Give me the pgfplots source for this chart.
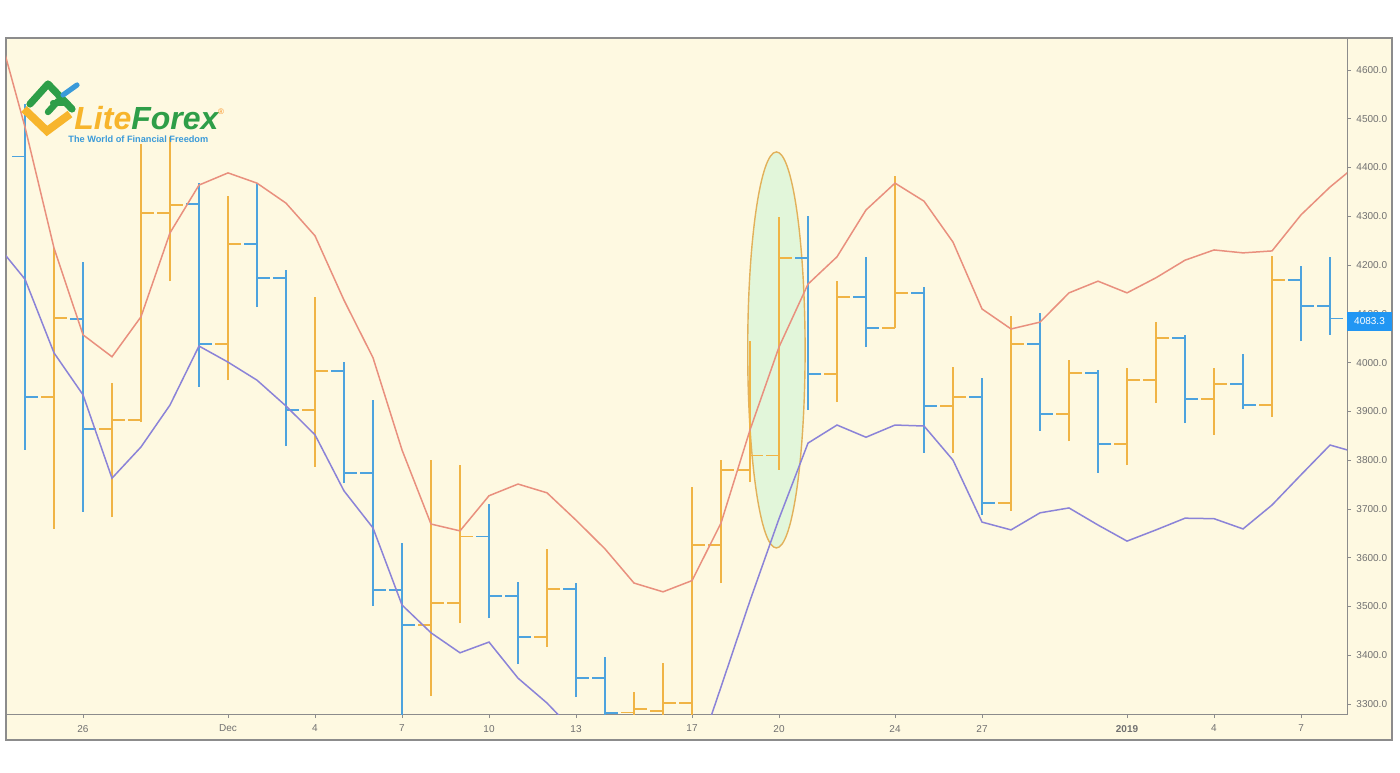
\documentclass[border=0pt]{standalone}
\usepackage{fontspec}
\setmainfont{Liberation Sans}
\usepackage{pgfplots}
\pgfplotsset{compat=1.18}
\usepackage{pgfplotstable}

\definecolor{bgc}{HTML}{FEF9E1}
\definecolor{framec}{HTML}{8C8C8C}
\definecolor{obar}{HTML}{F0B445}
\definecolor{bbar}{HTML}{4DA3DE}
\definecolor{rline}{HTML}{E9907E}
\definecolor{pline}{HTML}{8B83D8}
\definecolor{ellf}{HTML}{E2F6DA}
\definecolor{elld}{HTML}{E2B15A}
\definecolor{lblue}{HTML}{2196F3}
\definecolor{lgreen}{HTML}{2E9E48}
\definecolor{lyellow}{HTML}{F7B52C}
\definecolor{lsky}{HTML}{3A9AD9}
\definecolor{tickc}{HTML}{707070}

% day index: 0 = 26 Nov 2018
\pgfplotstableread{
d o h l c
-1 3929 4235 3659 4091
1 3864 3958 3683 3882
2 3882 4448 3878 4307
3 4307 4463 4167 4323
5 4038 4342 3964 4243
8 3903 4135 3786 3983
12 3462 3800 3316 3507
13 3507 3790 3466 3643
16 3437 3618 3417 3536
19 3283 3325 3200 3290
20 3286 3384 3200 3302
21 3302 3745 3200 3626
22 3626 3800 3548 3780
23 3780 4044 3755 3810
24 3810 4299 3780 4215
26 3977 4167 3919 4135
28 4071 4383 4071 4143
30 3911 3991 3815 3929
32 3712 4096 3696 4038
34 3895 4005 3839 3979
36 3833 3989 3790 3964
37 3964 4083 3917 4050
39 3925 3989 3852 3956
41 3913 4219 3889 4169
}\upbars

\pgfplotstableread{
d o h l c
-2 4423 4530 3821 3929
0 4089 4206 3694 3864
4 4325 4368 3950 4038
6 4243 4368 4114 4174
7 4174 4190 3829 3903
9 3983 4001 3753 3774
10 3774 3923 3501 3534
11 3534 3630 3200 3462
14 3643 3710 3476 3521
15 3521 3550 3382 3437
17 3536 3548 3314 3353
18 3353 3396 3200 3282
25 4215 4301 3903 3977
27 4135 4217 4032 4071
29 4143 4155 3815 3911
31 3929 3968 3688 3712
33 4038 4102 3860 3895
35 3979 3985 3774 3833
38 4050 4057 3876 3925
40 3956 4018 3905 3913
42 4169 4198 4044 4116
43 4116 4217 4057 4090
}\downbars

\pgfplotstableread{
d v
-3 4700
-2 4483
-1 4235
0 4057
1 4012
2 4094
3 4266
4 4364
5 4389
6 4368
7 4327
8 4260
9 4128
10 4010
11 3821
12 3669
13 3655
14 3727
15 3751
16 3733
17 3677
18 3618
19 3548
20 3530
21 3553
22 3671
23 3862
24 4032
25 4161
26 4217
27 4313
28 4368
29 4331
30 4247
31 4110
32 4069
33 4083
34 4143
35 4167
36 4143
37 4174
38 4210
39 4231
40 4225
41 4229
42 4303
43 4360
44 4409
}\upperband

\pgfplotstableread{
d v
-3 4244
-2 4171
-1 4020
0 3934
1 3763
2 3827
3 3913
4 4034
5 4001
6 3964
7 3911
8 3852
9 3737
10 3661
11 3503
12 3446
13 3405
14 3427
15 3353
16 3302
17 3240
18 3200
19 3170
20 3150
21 3160
22 3335
23 3512
24 3680
25 3835
26 3872
27 3847
28 3872
29 3870
30 3800
31 3673
32 3657
33 3692
34 3702
35 3667
36 3634
37 3657
38 3681
39 3680
40 3659
41 3708
42 3770
43 3831
44 3814
}\lowerband

\pgfplotsset{
  ohlc/.style={draw=none, mark=none, forget plot,
    /pgfplots/error bars/error mark=none,
    /pgfplots/error bars/error bar style={draw=#1, line width=0.75pt, line cap=butt}},
}

\begin{document}
\begin{tikzpicture}[x=0.5pt,y=0.5pt]
\fill[white] (0,0) rectangle (1400,772);
\fill[bgc] (6,32) rectangle (1392,734);
\draw[framec, line width=0.6pt] (6,32) rectangle (1392,734);
\begin{axis}[
  at={(3pt,29pt)}, anchor=south west,
  scale only axis, width=670.5pt, height=338pt,
  xmin=-2.655, xmax=43.586, ymin=3279.5, ymax=4665.6,
  axis line style={framec, line width=0.5pt},
  ytick={3300,3400,...,4600},
  ytick pos=right, xtick pos=bottom,
  tick align=outside, major tick length=2pt,
  tick style={framec, line width=0.4pt},
  xtick={0,5,8,11,14,17,21,24,28,31,36,39,42},
  xticklabels={26,Dec,4,7,10,13,17,20,24,27,\textbf{2019},4,7},
  ticklabel style={font=\fontsize{5.0}{6}\selectfont, text=tickc},
  yticklabel style={xshift=-0.8pt},
  /pgf/number format/fixed,
  /pgf/number format/fixed zerofill,
  /pgf/number format/precision=1,
  /pgf/number format/1000 sep={},
  /pgf/number format/assume math mode=true,
]
\draw[elld, fill=ellf, line width=0.7pt] (axis cs:23.91,4026) ellipse [x radius=14.35pt, y radius=99pt];

% up bars (orange): high-low, open tick (left), close tick (right)
\addplot[ohlc=obar, error bars/.cd, y dir=plus, y explicit]
  table[x=d, y=l, y error expr=\thisrow{h}-\thisrow{l}] {\upbars};
\addplot[ohlc=obar, error bars/.cd, x dir=minus, x fixed=0.45] table[x=d, y=o] {\upbars};
\addplot[ohlc=obar, error bars/.cd, x dir=plus, x fixed=0.45] table[x=d, y=c] {\upbars};
% down bars (blue)
\addplot[ohlc=bbar, error bars/.cd, y dir=plus, y explicit]
  table[x=d, y=l, y error expr=\thisrow{h}-\thisrow{l}] {\downbars};
\addplot[ohlc=bbar, error bars/.cd, x dir=minus, x fixed=0.45] table[x=d, y=o] {\downbars};
\addplot[ohlc=bbar, error bars/.cd, x dir=plus, x fixed=0.45] table[x=d, y=c] {\downbars};

\addplot[rline, line width=0.75pt, mark=none] table[x=d, y=v] {\upperband};
\addplot[pline, line width=0.75pt, mark=none] table[x=d, y=v] {\lowerband};
\end{axis}

% price label
\fill[lblue] (1347,441) rectangle (1392,460);
\node[text=white, inner sep=0, font=\fontsize{5.0}{6}\selectfont] at (1369.5,450.5) {4083.3};

% logo
\draw[lyellow, line width=4pt, line cap=butt, line join=miter] (24,663) -- (47,641) -- (70,658);
\draw[lgreen, line width=3.6pt, line cap=round, line join=round] (30,668) -- (48,688) -- (72,663);
\draw[lgreen, line width=3.2pt, line cap=round] (48,660) -- (58,671);
\draw[lgreen, line width=3pt, line cap=round] (53,669) -- (66,669);
\draw[lsky, line width=2.6pt, line cap=round] (63,677) -- (77,687);
\node[anchor=base west, inner sep=0] at (74,642) {\fontsize{16}{16}\selectfont\bfseries\itshape\textcolor{lyellow}{Lite}\textcolor{lgreen}{Forex}};
\node[anchor=center, inner sep=0, text=lyellow!80!red] at (221,660) {\fontsize{4}{4}\selectfont ®};
\node[anchor=base west, inner sep=0] at (68,629) {\fontsize{4.6}{5}\selectfont\bfseries\textcolor{lsky}{The World of Financial Freedom}};
\end{tikzpicture}
\end{document}
